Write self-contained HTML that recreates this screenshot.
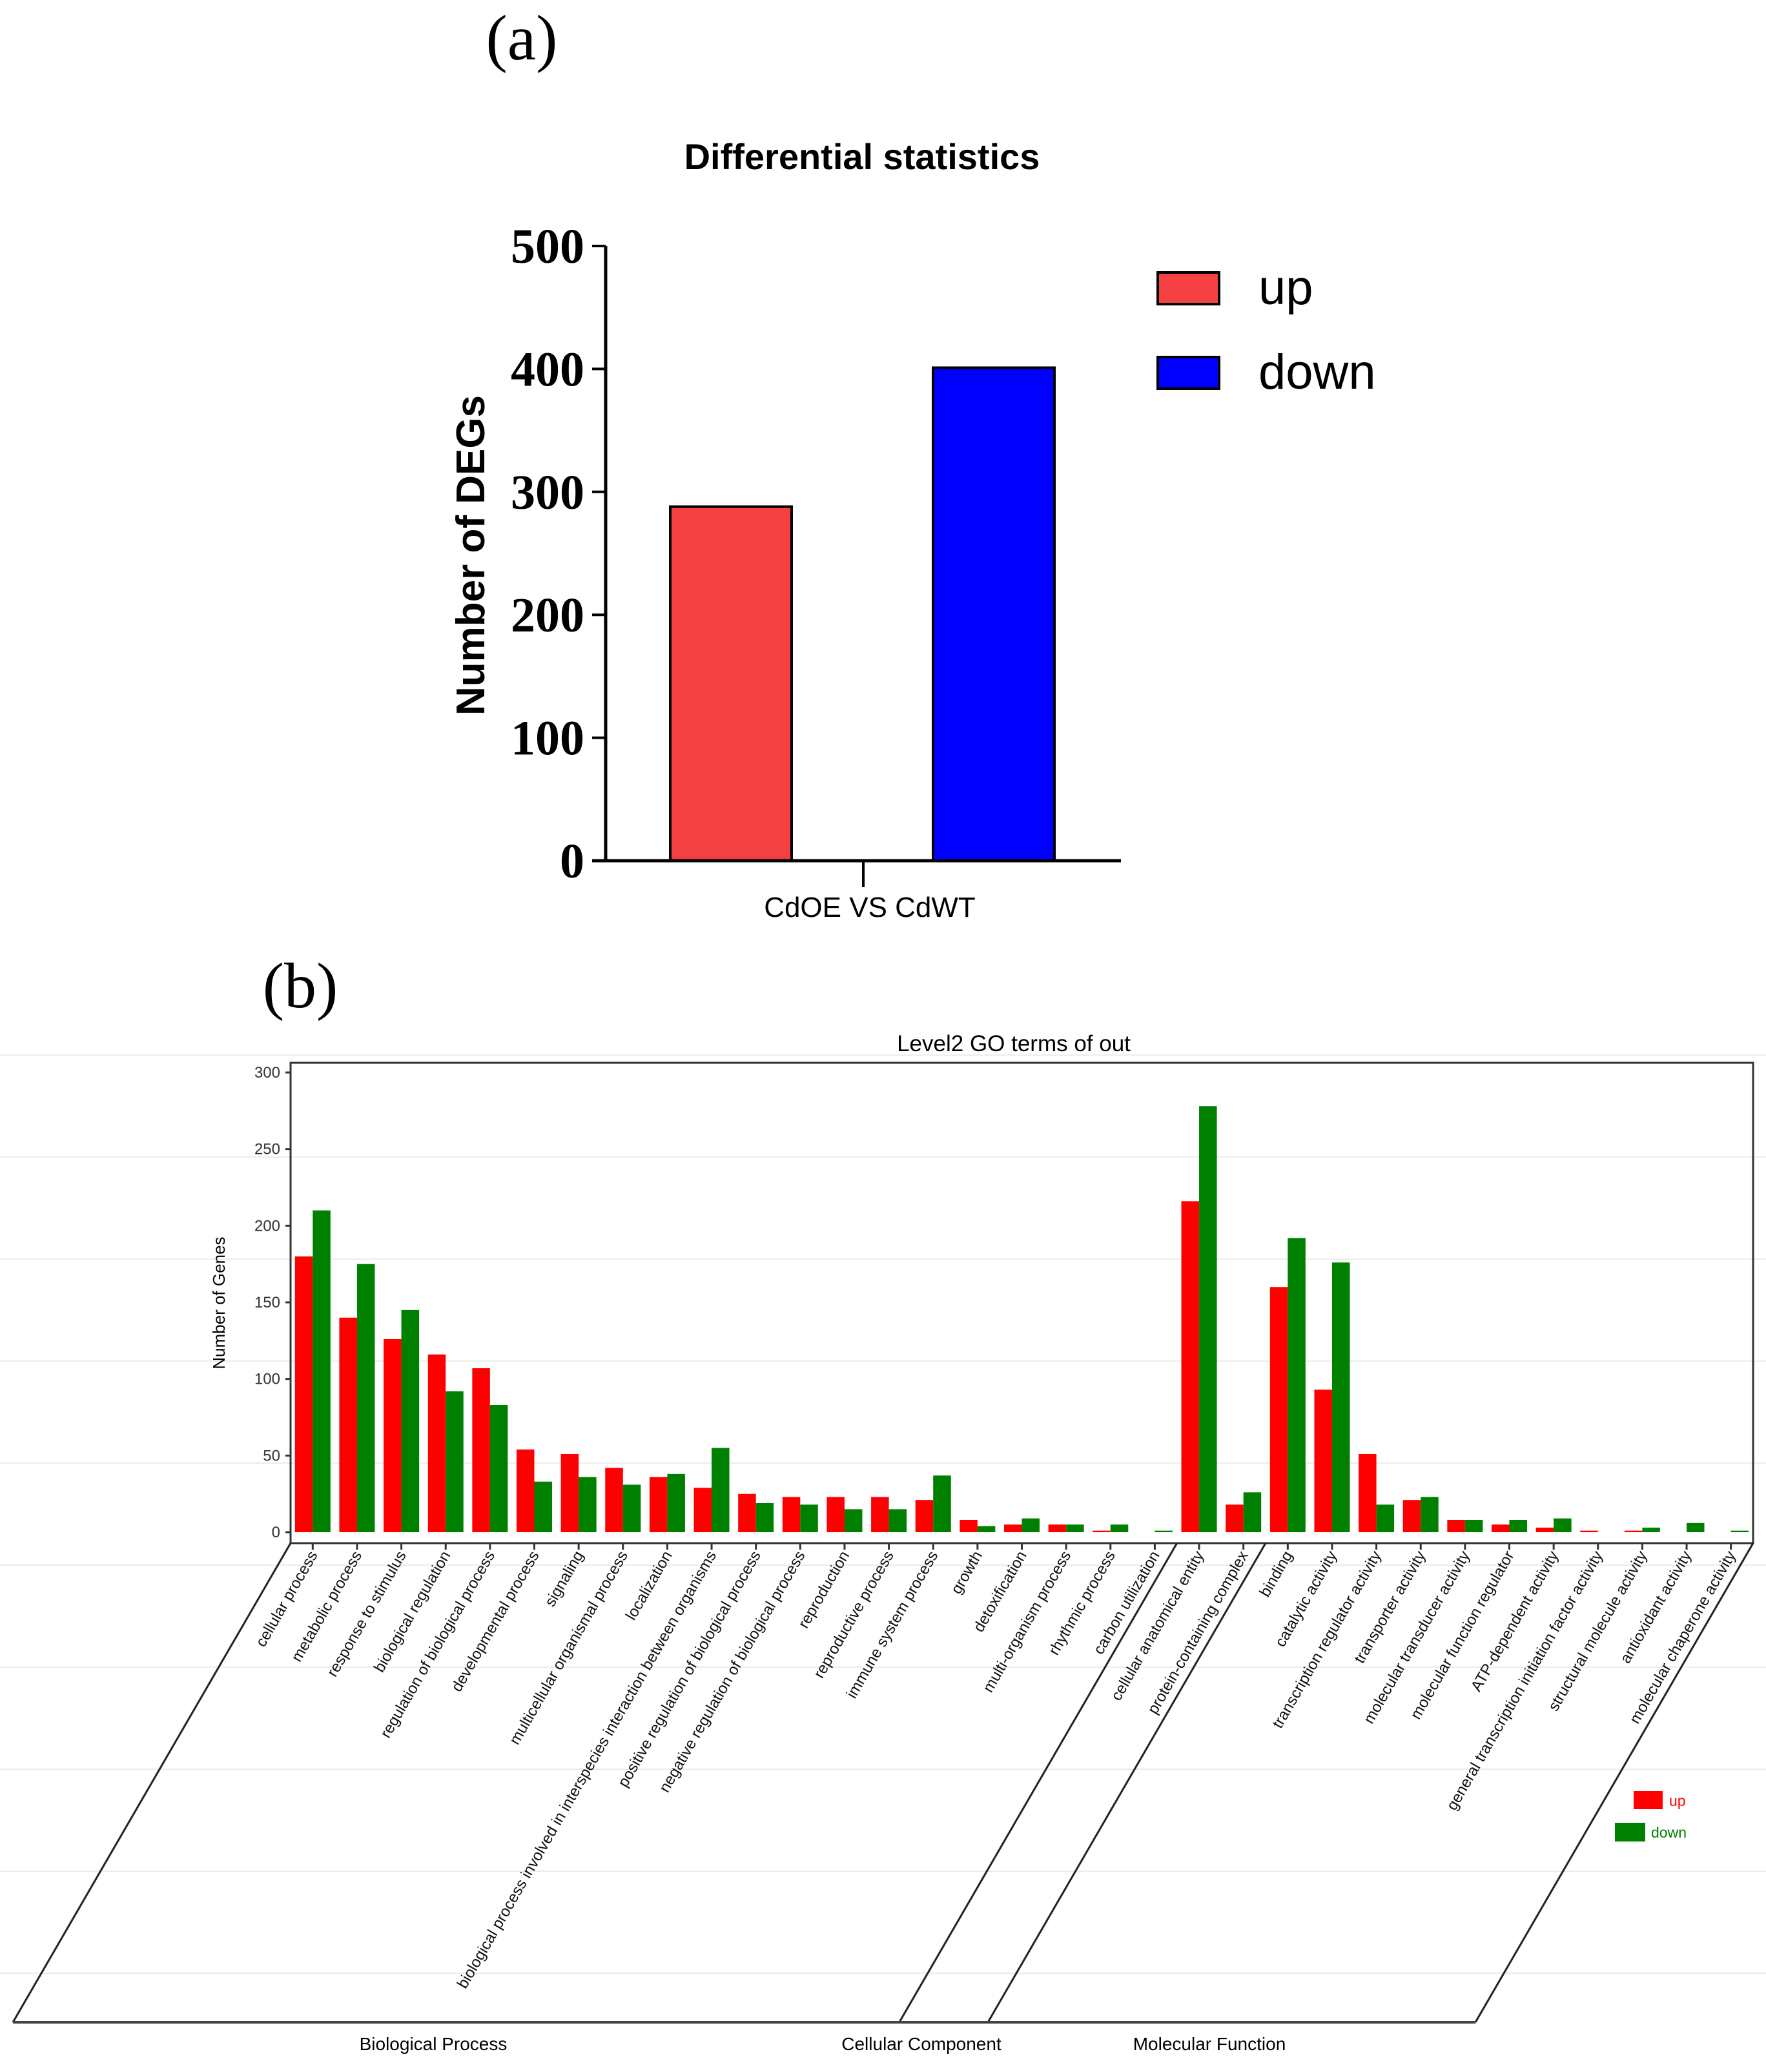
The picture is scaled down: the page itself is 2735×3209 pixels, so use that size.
<!DOCTYPE html>
<html><head><meta charset="utf-8"><style>
html,body{margin:0;padding:0;background:#fff;}
svg{display:block;}
</style></head><body>
<svg id="fig" width="2735" height="3209" viewBox="0 0 2735 3209" xmlns="http://www.w3.org/2000/svg">
<rect width="2735" height="3209" fill="#fff"/>
<g id="gridbg"></g>
<text x="808" y="92" font-family="Liberation Serif, serif" font-size="100" text-anchor="middle">(a)</text>
<text x="1335" y="262" font-family="Liberation Sans, sans-serif" font-weight="bold" font-size="56" text-anchor="middle">Differential statistics</text>
<g id="chartA"></g>
<text x="465" y="1560" font-family="Liberation Serif, serif" font-size="100" text-anchor="middle">(b)</text>
<text x="1570" y="1628" font-family="Liberation Sans, sans-serif" font-size="35" text-anchor="middle">Level2 GO terms of out</text>
<g id="chartB"></g>
</svg>
<script>
// ---------- Chart A data ----------
const aCategories = ["up", "down"];
const aValues = [288, 401];
const aTicks = [0, 100, 200, 300, 400, 500];
// ---------- Chart B data ----------
const bCategories = ["cellular process","metabolic process","response to stimulus","biological regulation","regulation of biological process","developmental process","signaling","multicellular organismal process","localization","biological process involved in interspecies interaction between organisms","positive regulation of biological process","negative regulation of biological process","reproduction","reproductive process","immune system process","growth","detoxification","multi-organism process","rhythmic process","carbon utilization","cellular anatomical entity","protein-containing complex","binding","catalytic activity","transcription regulator activity","transporter activity","molecular transducer activity","molecular function regulator","ATP-dependent activity","general transcription initiation factor activity","structural molecule activity","antioxidant activity","molecular chaperone activity"];
const bUp = [180,140,126,116,107,54,51,42,36,29,25,23,23,23,21,8,5,5,1,0,216,18,160,93,51,21,8,5,3,1,1,0,0];
const bDown = [210,175,145,92,83,33,36,31,38,55,19,18,15,15,37,4,9,5,5,1,278,26,192,176,18,23,8,8,9,0,3,6,1];
const bTicks = [0,50,100,150,200,250,300];
const bSections = ["Biological Process","Cellular Component","Molecular Function"];
const bSectionCounts = [20, 2, 11];

const NS = "http://www.w3.org/2000/svg";
function mk(tag, attrs, parent, txt) {
  const e = document.createElementNS(NS, tag);
  for (const k in attrs) e.setAttribute(k, attrs[k]);
  if (txt !== undefined) e.textContent = txt;
  parent.appendChild(e);
  return e;
}

const bg = document.getElementById("gridbg");
for (let y = 1634; y < 3100; y += 158) {
  const l = mk("line", {x1:0, x2:2735, y1:y, y2:y, stroke:"#ececec", "stroke-width":2}, bg);
  
  
}

// ---------- Chart A ----------
const A = document.getElementById("chartA");
const aY0 = 1333, aY1 = 381, aMax = 500;
const ay = v => aY0 - (v / aMax) * (aY0 - aY1);
const aBarX = [1038, 1445], aBarW = 188;
const aColors = ["#f44040", "#0000ff"];
aValues.forEach((v, i) => {
  const r = mk("rect", {x:aBarX[i], y:ay(v), width:aBarW, height:aY0 - ay(v), fill:aColors[i], stroke:"#000", "stroke-width":4}, A);
  
  
});
const aAxY = mk("line", {x1:938, x2:938, y1:ay(aMax), y2:aY0, stroke:"#000", "stroke-width":5}, A);


const aAxX = mk("line", {x1:917, x2:1736, y1:aY0, y2:aY0, stroke:"#000", "stroke-width":5}, A);


mk("line", {x1:1337, x2:1337, y1:aY0, y2:1374, stroke:"#000", "stroke-width":4}, A);
aTicks.forEach(t => {
  mk("line", {x1:917, x2:938, y1:ay(t), y2:ay(t), stroke:"#000", "stroke-width":4}, A);
  const tx = mk("text", {x:905, y:ay(t) + 26, "text-anchor":"end", "font-family":"Liberation Serif, serif", "font-weight":"bold", "font-size":76}, A, String(t));
  
  
});
const aXl = mk("text", {x:1347, y:1420, "text-anchor":"middle", "font-family":"Liberation Sans, sans-serif", "font-size":44}, A, "CdOE VS CdWT");


const aYt = mk("text", {transform:"translate(750,860) rotate(-90)", "text-anchor":"middle", "font-family":"Liberation Sans, sans-serif", "font-weight":"bold", "font-size":62}, A, "Number of DEGs");


const legY = [422, 553];
aCategories.forEach((c, i) => {
  const s = mk("rect", {x:1793, y:legY[i], width:95, height:49, fill:aColors[i], stroke:"#000", "stroke-width":4}, A);
  
  
  const t = mk("text", {x:1949, y:legY[i] + 49, "font-family":"Liberation Sans, sans-serif", "font-size":76}, A, c);
  
  
});

// ---------- Chart B ----------
const B = document.getElementById("chartB");
const bL = 450, bR = 2715, bT = 1646, bB = 2390;
const bY0 = 2373, bY300 = 1661;
const by = v => bY0 - (v / 300) * (bY0 - bY300);
const band = (bR - bL) / bCategories.length;
const bx = i => bL + band * (i + 0.5);
const bw = 27.5;
bCategories.forEach((c, i) => {
  const cx = bx(i);
  if (bUp[i] > 0) {
    const r = mk("rect", {x:cx - bw, y:by(bUp[i]), width:bw, height:bY0 - by(bUp[i]), fill:"#ff0000"}, B);
    
    
  }
  if (bDown[i] > 0) {
    const r = mk("rect", {x:cx, y:by(bDown[i]), width:bw, height:bY0 - by(bDown[i]), fill:"#008000"}, B);
    
    
  }
  mk("line", {x1:cx, x2:cx, y1:bB, y2:bB + 10, stroke:"#333", "stroke-width":3}, B);
  const t = mk("text", {transform:"translate(" + (cx + 8) + "," + (bB + 18) + ") rotate(-60)", "text-anchor":"end", "font-family":"Liberation Sans, sans-serif", "font-size":24, fill:"#111"}, B, c);
  
  
});
const box = mk("rect", {x:bL, y:bT, width:bR - bL, height:bB - bT, fill:"none", stroke:"#333", "stroke-width":3}, B);


bTicks.forEach(t => {
  mk("line", {x1:bL - 8, x2:bL, y1:by(t), y2:by(t), stroke:"#333", "stroke-width":3}, B);
  const tx = mk("text", {x:434, y:by(t) + 8, "text-anchor":"end", "font-family":"Liberation Sans, sans-serif", "font-size":24, fill:"#333"}, B, String(t));
  
  
});
const bYt = mk("text", {transform:"translate(348,2018) rotate(-90)", "text-anchor":"middle", "font-family":"Liberation Sans, sans-serif", "font-size":26}, B, "Number of Genes");


const dxS = 430, botY = 3132;
let acc = 0;
const bounds = [0];
bSectionCounts.forEach(n => { acc += n; bounds.push(acc); });
bounds.forEach(k => {
  const xt = bL + band * k;
  const l = mk("line", {x1:xt, y1:bB, x2:xt - dxS, y2:botY, stroke:"#222", "stroke-width":3}, B);
  
  
});
const bl = mk("line", {x1:bL - dxS, x2:bR - dxS, y1:botY, y2:botY, stroke:"#444", "stroke-width":4}, B);


const secX = [671, 1427, 1873];
bSections.forEach((s, i) => {
  const t = mk("text", {x:secX[i], y:3175, "text-anchor":"middle", "font-family":"Liberation Sans, sans-serif", "font-size":28}, B, s);
  
  
});
const lu = mk("rect", {x:2530, y:2774, width:45, height:28, fill:"#ff0000"}, B);


const lut = mk("text", {x:2585, y:2797, "font-family":"Liberation Sans, sans-serif", "font-size":23, fill:"#ff0000"}, B, "up");


const ld = mk("rect", {x:2501, y:2823, width:47, height:29, fill:"#008000"}, B);


const ldt = mk("text", {x:2557, y:2846, "font-family":"Liberation Sans, sans-serif", "font-size":23, fill:"#008000"}, B, "down");


</script>
</body></html>
